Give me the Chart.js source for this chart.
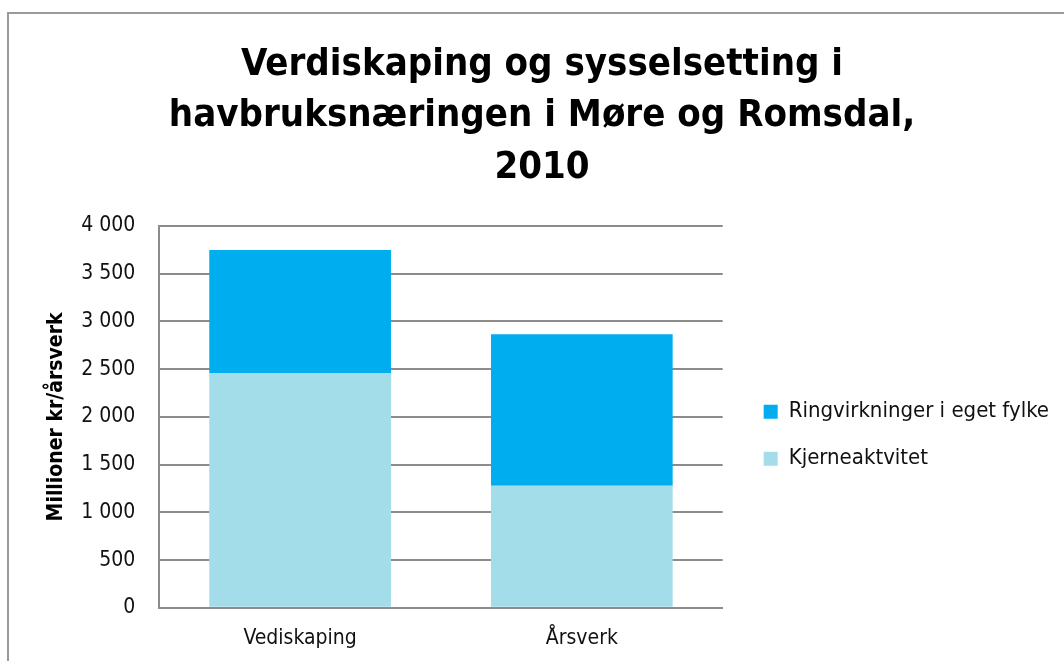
<!DOCTYPE html>
<html>
<head>
<meta charset="utf-8">
<script src="https://cdn.jsdelivr.net/npm/chart.js@4"></script>
<style>
  html, body { margin: 0; padding: 0; overflow: hidden; background: #fff; }
  #frame {
    position: absolute; left: 7px; top: 12px;
    width: 1066px; height: 660px;
    border: 2px solid #9a9a9a;
  }
  #chart { display: block; }
</style>
</head>
<body>
<div id="frame"><canvas id="chart" width="1066" height="660"></canvas></div>
<script>
const categories = ['Vediskaping', 'Årsverk'];
const kjerneValues = [2460, 1280];
const ringValues = [1290, 1585];
const yTicks = [0, 500, 1000, 1500, 2000, 2500, 3000, 3500, 4000];

const titleLines = [
  'Verdiskaping og sysselsetting i',
  'havbruksnæringen i Møre og Romsdal,',
  '2010',
];

const fontFamily = '"DejaVu Sans Condensed", "Liberation Sans Narrow", sans-serif';

const formatTick = (v) => String(v).replace(/\B(?=(\d{3})+(?!\d))/g, ' ');

new Chart(document.getElementById('chart').getContext('2d'), {
  type: 'bar',
  data: {
    labels: categories,
    datasets: [
      {
        label: 'Kjerneaktvitet',
        data: kjerneValues,
        backgroundColor: '#a3dde9',
        barPercentage: 0.645,
        categoryPercentage: 1,
      },
      {
        label: 'Ringvirkninger i eget fylke',
        data: ringValues,
        backgroundColor: '#00adee',
        barPercentage: 0.645,
        categoryPercentage: 1,
      },
    ],
  },
  options: {
    responsive: false,
    animation: false,
    layout: { padding: { top: 25, right: 16, bottom: 5, left: 16 } },
    plugins: {
      title: {
        display: true,
        text: titleLines,
        color: '#000',
        font: { family: fontFamily, size: 38, weight: 'bold', lineHeight: 1.36 },
        padding: { top: 0, bottom: 32 },
      },
      legend: {
        position: 'right',
        reverse: true,
        maxWidth: 340,
        title: {
          display: true,
          text: ' ',
          font: { size: 12 },
          padding: { top: 0, bottom: 148 },
        },
        labels: {
          color: '#111',
          font: { family: fontFamily, size: 22 },
          boxWidth: 14,
          boxHeight: 14,
          padding: 25,
        },
      },
      tooltip: { enabled: false },
    },
    scales: {
      x: {
        stacked: true,
        grid: { display: false, drawTicks: false },
        border: { color: '#8c8c8c', width: 2 },
        ticks: { color: '#111', font: { family: fontFamily, size: 21 }, padding: 18 },
      },
      y: {
        stacked: true,
        min: 0,
        max: 4000,
        afterBuildTicks: (axis) => { axis.ticks = yTicks.map((value) => ({ value })); },
        grid: { color: '#8c8c8c', lineWidth: 2, drawTicks: false },
        border: { color: '#8c8c8c', width: 2 },
        ticks: {
          color: '#111',
          font: { family: fontFamily, size: 21 },
          padding: 24,
          callback: (v) => formatTick(v),
        },
        title: {
          display: true,
          text: 'Millioner kr/årsverk',
          color: '#000',
          font: { family: fontFamily, size: 21, weight: 'bold' },
          padding: { top: 19, bottom: -12 },
        },
      },
      // empty right-hand scale, only keeps a gap between plot and legend
      gap: {
        position: 'right',
        display: true,
        grid: { display: false, drawTicks: false },
        border: { display: false },
        ticks: { display: false },
        afterFit: (scale) => { scale.width = 16; },
      },
    },
  },
});
</script>
</body>
</html>
